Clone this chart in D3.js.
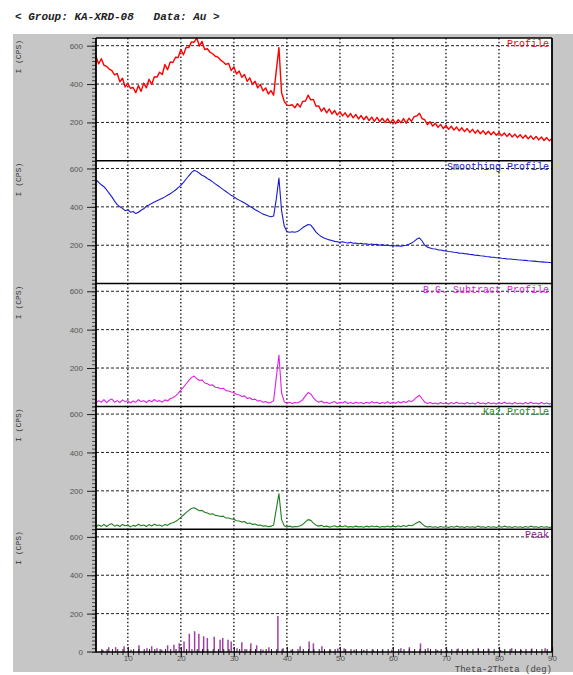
<!DOCTYPE html>
<html><head><meta charset="utf-8">
<script src="https://cdn.jsdelivr.net/npm/d3@7"></script>
<style>html,body{margin:0;padding:0;background:#fff;}svg{display:block;}</style>
</head><body><svg id="c" width="573" height="675"></svg>
<script>
// ---------- data ----------
const headerText = "< Group: KA-XRD-08   Data: Au >";
const xTicks = [10,20,30,40,50,60,70,80,90];
const yTicks = [200,400,600];
const panelNames = ["Profile","Smoothing Profile","B.G. Subtract Profile","Ka2 Profile","Peak"];
const panelColors = ["#ff0000","#1a1ad0","#e020e0","#1e7e1e","#a040a0"];
const labelColors = ["#e01010","#2020d0","#e020e0","#2a8a2a","#902090"];
// 2theta grid 4..90 step 0.5
const theta = d3.range(4, 90.001, 0.5);
const profile = [
545,505,532,498,492,478,470,448,455,412,
430,385,402,378,382,355,392,362,405,380,
425,398,438,436,462,450,502,475,515,512,
540,538,580,552,592,590,620,618,640,598,
622,580,584,566,558,545,540,525,515,502,
508,470,490,452,468,435,450,414,432,398,
415,380,398,364,380,348,366,342,470,590,
355,310,290,288,292,276,298,280,310,312,
342,318,320,284,286,258,276,250,270,244,
262,238,256,234,250,228,246,224,242,218,
236,214,232,210,228,206,226,204,222,200,
220,196,216,194,214,198,220,196,222,206,
230,234,248,220,214,188,204,181,196,174,
190,168,184,164,180,160,176,156,172,152,
168,148,164,144,160,141,157,138,154,136,
151,133,148,130,145,127,142,124,139,121,
136,118,133,115,130,112,127,109,124,106,
121,104,116];
const smoothing = [
540,528,515,505,488,470,452,430,412,400,
392,380,385,372,376,365,372,382,390,404,
410,418,425,432,438,445,452,460,468,478,
488,500,512,528,545,562,578,590,585,575,
565,558,548,540,530,520,510,500,490,480,
470,460,452,442,435,428,420,412,402,395,
385,378,370,362,357,352,348,352,440,550,
380,300,272,268,270,268,272,280,292,300,
308,305,288,268,255,245,238,232,228,225,
220,218,215,218,214,212,215,210,212,208,
210,206,208,204,206,203,205,200,203,199,
201,197,199,196,198,195,198,200,205,212,
220,232,238,222,200,190,186,182,180,176,
175,172,170,167,166,163,162,159,158,156,
155,152,151,148,147,145,144,141,140,138,
137,135,134,132,131,129,128,127,126,124,
123,122,121,119,118,117,116,114,113,112,
111,110,109];
const bgSubtract = [
18,30,22,35,20,32,38,22,30,20,
34,25,30,18,28,22,35,25,30,20,
32,24,36,26,30,22,34,28,40,45,
55,68,85,100,118,135,150,158,145,135,
138,122,118,110,112,100,98,92,95,82,
80,75,72,62,60,52,55,42,45,35,
38,28,30,22,25,18,22,30,150,268,
70,25,15,22,15,20,18,25,35,55,
72,65,45,30,22,28,18,22,15,20,
25,15,22,18,25,15,20,15,22,16,
20,14,22,16,24,18,22,14,20,16,
24,15,22,16,25,18,26,20,30,25,
35,48,58,40,22,15,20,14,18,12,
20,14,18,12,20,14,22,15,18,12,
20,14,18,12,22,15,18,12,20,14,
18,12,20,14,22,15,18,12,20,14,
18,12,20,14,22,15,18,12,20,14,
18,12,16];
const ka2 = [
12,22,15,25,14,24,28,16,22,14,
25,18,22,12,20,16,26,18,22,14,
24,17,26,19,22,16,25,20,30,34,
40,50,62,74,86,98,108,112,104,96,
98,88,84,78,80,72,70,66,68,58,
58,54,52,44,43,37,40,30,32,25,
27,20,22,16,18,13,16,22,105,185,
50,18,11,16,11,14,13,18,25,38,
50,46,32,21,16,20,13,16,11,14,
18,11,16,13,18,11,14,11,16,12,
14,10,16,12,17,13,16,10,14,12,
17,11,16,12,18,13,19,14,21,18,
25,34,40,28,16,11,14,10,13,9,
14,10,13,9,14,10,16,11,13,9,
14,10,13,9,16,11,13,9,14,10,
13,9,14,10,16,11,13,9,14,10,
13,9,14,10,16,11,13,9,14,10,
13,9,12];
const peakTheta = [5.3,6.4,7.7,9.3,10.6,12.1,13.6,14.5,15.5,16.4,17.5,18.7,19.7,20.6,21.6,22.6,23.4,24.3,25.0,26.3,27.4,27.9,28.9,29.5,30.6,31.5,32.4,33.2,34.3,35.5,36.6,38.3,39.3,40.8,42.5,44.2,45.0,46.6,48.2,49.6,50.8,52.7,54.5,56.3,58.0,59.8,61.5,63.1,65.2,66.6,68.4,70.2,72.3,74.0,76.1,78.0,80.3,82.4,84.2,86.2,88.7];
const peakHeight = [10,25,25,30,12,35,20,30,20,12,35,38,45,55,95,108,95,82,73,80,64,73,64,55,20,51,15,45,35,12,25,188,20,12,30,55,45,30,12,18,20,12,10,12,10,12,20,25,45,20,10,12,18,10,20,18,10,20,10,18,20];

// ---------- layout ----------
const svg = d3.select("#c");
const L = 96, R = 552, T = 38, B = 652;
const nP = 5, pH = (B - T) / nP;
const x = d3.scaleLinear().domain([4, 90]).range([L, R]);
const yFor = i => d3.scaleLinear().domain([0, 640]).range([T + (i + 1) * pH, T + i * pH]);

svg.append("rect").attr("x",13).attr("y",34).attr("width",560).attr("height",638).attr("fill","#c6c6c6");
svg.append("rect").attr("x",L).attr("y",T).attr("width",R-L).attr("height",B-T).attr("fill","#fff");

svg.append("text").attr("x",15).attr("y",20).attr("xml:space","preserve")
  .attr("font-family","Liberation Mono, Courier New, monospace").attr("font-size",11)
  .attr("font-weight","bold").attr("font-style","italic").attr("fill","#222")
  .text(headerText);

const series = [profile, smoothing, bgSubtract, ka2];

for (let i = 0; i < nP; i++) {
  const y = yFor(i);
  const g = svg.append("g");
  const top = T + i * pH, bot = T + (i + 1) * pH;
  g.selectAll(".hg").data(yTicks).join("line")
    .attr("x1",L).attr("x2",R).attr("y1",d=>y(d)).attr("y2",d=>y(d))
    .attr("stroke","#222").attr("stroke-width",1).attr("stroke-dasharray","3,2");
  g.selectAll(".vg").data(xTicks.filter(t=>t<90)).join("line")
    .attr("x1",d=>x(d)).attr("x2",d=>x(d)).attr("y1",top).attr("y2",bot)
    .attr("stroke","#333").attr("stroke-width",1.5).attr("stroke-dasharray","1.5,2.2");
  const yAxis = d3.axisLeft(y).tickValues(d3.range(0, 641, 20)).tickSize(4).tickFormat("");
  g.append("g").attr("transform",`translate(${L},0)`).call(yAxis)
    .call(a=>a.select(".domain").remove())
    .call(a=>a.selectAll("line").attr("stroke","#222").attr("stroke-width",0.8));
  const yMaj = d3.axisLeft(y).tickValues(yTicks).tickSize(9).tickFormat(d3.format("d"));
  g.append("g").attr("transform",`translate(${L},0)`).call(yMaj)
    .call(a=>a.select(".domain").remove())
    .call(a=>a.selectAll("line").attr("stroke","#222").attr("stroke-width",1))
    .call(a=>a.selectAll("text").attr("font-family","Liberation Sans, Arial, sans-serif")
      .attr("font-size",8).attr("fill","#555").attr("x",-13));
  g.append("text").attr("transform",`translate(21,${top+2}) rotate(-90)`)
    .attr("text-anchor","end").attr("font-family","Liberation Mono, monospace")
    .attr("font-size",8).attr("fill","#333").text("I (CPS)");
  if (i < 4) {
    const line = d3.line().x((d,k)=>x(theta[k])).y(d=>y(d));
    g.append("path").datum(series[i]).attr("d",line).attr("fill","none")
      .attr("stroke",panelColors[i]).attr("stroke-width", i===0 ? 1.4 : 1.1)
      .attr("stroke-linejoin","round");
  } else {
    g.selectAll(".stick").data(peakTheta).join("line")
      .attr("x1",d=>x(d)).attr("x2",d=>x(d))
      .attr("y1",y(0)).attr("y2",(d,k)=>y(peakHeight[k]))
      .attr("stroke",panelColors[4]).attr("stroke-width",1.5);
  }
  g.append("text").attr("x",R-3).attr("y",top+9).attr("text-anchor","end")
    .attr("font-family","Liberation Mono, Courier New, monospace").attr("font-size",10)
    .attr("fill",labelColors[i]).text(panelNames[i]);
  g.append("line").attr("x1",L).attr("x2",R).attr("y1",top).attr("y2",top)
    .attr("stroke","#000").attr("stroke-width",1.5);
}
svg.append("text").attr("x",L-13).attr("y",B+3).attr("text-anchor","end")
  .attr("font-family","Liberation Sans, Arial, sans-serif").attr("font-size",8).attr("fill","#555").text("0");
svg.append("line").attr("x1",L-9).attr("x2",L).attr("y1",B).attr("y2",B).attr("stroke","#222");

const xMinor = d3.axisBottom(x).tickValues(d3.range(5, 90, 1)).tickSize(3).tickFormat("");
svg.append("g").attr("transform",`translate(0,${B})`).call(xMinor)
  .call(a=>a.select(".domain").remove())
  .call(a=>a.selectAll("line").attr("y1",-3).attr("stroke","#222").attr("stroke-width",1));
const xMaj = d3.axisBottom(x).tickValues(xTicks).tickSize(5).tickFormat(d3.format("d"));
svg.append("g").attr("transform",`translate(0,${B})`).call(xMaj)
  .call(a=>a.select(".domain").remove())
  .call(a=>a.selectAll("line").attr("y1",-5).attr("stroke","#222").attr("stroke-width",1.2))
  .call(a=>a.selectAll("text").attr("font-family","Liberation Sans, Arial, sans-serif")
    .attr("font-size",8).attr("fill","#555").attr("y",3));
svg.append("text").attr("x",R).attr("y",672).attr("text-anchor","end").attr("xml:space","preserve")
  .attr("font-family","Liberation Mono, Courier New, monospace").attr("font-size",9)
  .attr("fill","#444").text("Theta-2Theta (deg)");

svg.append("line").attr("x1",L).attr("x2",L).attr("y1",T).attr("y2",B).attr("stroke","#000").attr("stroke-width",1.8);
svg.append("line").attr("x1",R).attr("x2",R).attr("y1",T).attr("y2",B).attr("stroke","#000").attr("stroke-width",1.8);
svg.append("line").attr("x1",L).attr("x2",R).attr("y1",B).attr("y2",B).attr("stroke","#000").attr("stroke-width",1.5);
</script></body></html>
